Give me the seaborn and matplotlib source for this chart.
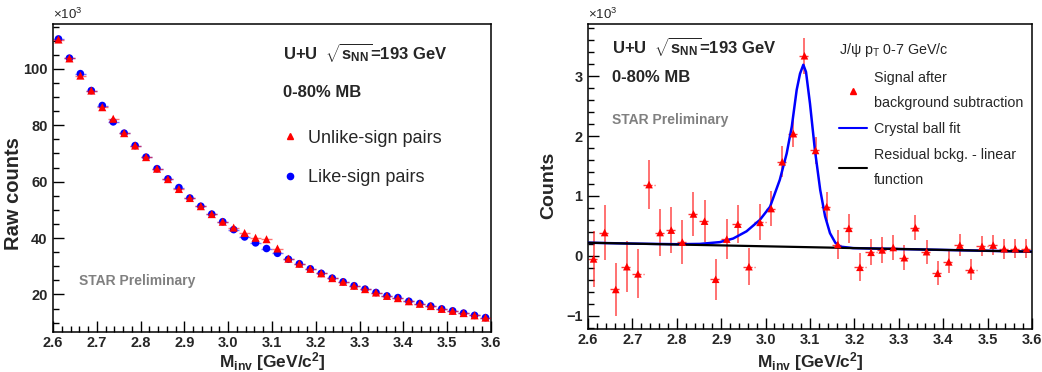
import numpy as np
import pandas as pd
import matplotlib
matplotlib.use("Agg")
import matplotlib.pyplot as plt
import seaborn as sns
from matplotlib.lines import Line2D
from matplotlib.ticker import MultipleLocator

# ---------------- data (values in units of 10^3) ----------------
mass = [2.6125, 2.6375, 2.6625, 2.6875, 2.7125, 2.7375, 2.7625, 2.7875, 2.8125, 2.8375,
        2.8625, 2.8875, 2.9125, 2.9375, 2.9625, 2.9875, 3.0125, 3.0375, 3.0625, 3.0875,
        3.1125, 3.1375, 3.1625, 3.1875, 3.2125, 3.2375, 3.2625, 3.2875, 3.3125, 3.3375,
        3.3625, 3.3875, 3.4125, 3.4375, 3.4625, 3.4875, 3.5125, 3.5375, 3.5625, 3.5875]
bin_half_width = 0.0125

unlike_sign = [110.4, 103.7, 97.6, 92.3, 86.4, 82.3, 77.2, 72.8, 68.7, 64.6,
               60.9, 57.4, 54.2, 51.3, 48.5, 45.8, 43.7, 41.8, 40.1, 39.6,
               36.3, 32.7, 30.9, 29.1, 27.5, 25.8, 24.5, 23.1, 21.9, 20.7,
               19.5, 18.7, 17.6, 16.7, 15.9, 14.9, 14.2, 13.4, 12.6, 11.8]
like_sign = [110.6, 103.8, 98.3, 92.3, 87.0, 81.2, 77.2, 72.8, 68.7, 64.6,
             61.0, 57.9, 54.2, 51.3, 48.5, 45.8, 43.0, 40.4, 38.3, 36.3,
             34.6, 32.5, 30.9, 29.1, 27.5, 25.8, 24.5, 23.1, 21.9, 20.7,
             19.5, 18.9, 17.6, 16.8, 15.9, 14.9, 14.2, 13.4, 12.6, 11.8]

signal = [-0.05, 0.39, -0.56, -0.18, -0.30, 1.19, 0.39, 0.43, 0.23, 0.70,
          0.58, -0.39, 0.28, 0.53, -0.18, 0.56, 0.79, 1.57, 2.04, 3.34,
          1.76, 0.82, 0.19, 0.46, -0.19, 0.06, 0.10, 0.14, -0.03, 0.47,
          0.07, -0.29, -0.10, 0.18, -0.23, 0.16, 0.18, 0.12, 0.12, 0.12]
signal_err = [0.47, 0.46, 0.44, 0.43, 0.41, 0.41, 0.39, 0.38, 0.37, 0.36,
              0.35, 0.34, 0.33, 0.32, 0.31, 0.30, 0.29, 0.26, 0.22, 0.30,
              0.22, 0.24, 0.24, 0.24, 0.23, 0.22, 0.22, 0.21, 0.21, 0.21,
              0.20, 0.20, 0.19, 0.19, 0.18, 0.17, 0.17, 0.17, 0.16, 0.16]

cb_mass = [2.60, 2.70, 2.80, 2.852, 2.897, 2.927, 2.957, 2.987, 3.010, 3.032,
           3.0475, 3.059, 3.070, 3.0775, 3.085, 3.091, 3.100, 3.111, 3.123, 3.134,
           3.145, 3.157, 3.168, 3.197, 3.30, 3.40, 3.50, 3.60]
cb_fit = [0.22, 0.205, 0.195, 0.20, 0.23, 0.29, 0.41, 0.60, 0.82, 1.27,
          1.71, 2.16, 2.77, 3.04, 3.19, 3.07, 2.54, 1.77, 1.10, 0.66,
          0.38, 0.22, 0.155, 0.13, 0.115, 0.10, 0.085, 0.07]
bg_mass = [2.60, 3.60]
bg_fit = [0.22, 0.07]

left_df = pd.DataFrame({"mass": mass, "unlike": unlike_sign, "like": like_sign})
right_df = pd.DataFrame({"mass": mass, "signal": signal, "err": signal_err})

# ---------------- style ----------------
sns.set_theme(style="ticks")
plt.rcParams["font.family"] = ["Liberation Sans", "DejaVu Sans"]
plt.rcParams["mathtext.fontset"] = "custom"
plt.rcParams["mathtext.rm"] = "Liberation Sans:bold"
plt.rcParams["mathtext.it"] = "Liberation Sans:bold"
plt.rcParams["mathtext.bf"] = "Liberation Sans:bold"
plt.rcParams["mathtext.sf"] = "Liberation Sans:bold"

W, H = 1042, 372
fig = plt.figure(figsize=(W / 100, H / 100), dpi=100)
axL = fig.add_axes([53 / W, (H - 332) / H, 438 / W, 308 / H])
axR = fig.add_axes([588 / W, (H - 329) / H, 444 / W, 305 / H])

RED = "#ff0000"
BLUE = "#0000ff"

def style_axes(ax, ymaj, ymin):
    ax.set_xlim(2.6, 3.6)
    ax.xaxis.set_major_locator(MultipleLocator(0.1))
    ax.xaxis.set_minor_locator(MultipleLocator(0.02))
    ax.yaxis.set_major_locator(MultipleLocator(ymaj))
    ax.yaxis.set_minor_locator(MultipleLocator(ymin))
    ax.tick_params(which="both", direction="in", top=False, right=False,
                   labelsize=10.5, width=1.0, color="black")
    ax.tick_params(which="major", length=8)
    ax.tick_params(which="minor", length=4)
    ax.tick_params(axis="x", which="major", pad=3)
    ax.tick_params(axis="y", which="major", pad=4)
    for lab in ax.get_xticklabels() + ax.get_yticklabels():
        lab.set_fontweight("bold")
    for sp in ax.spines.values():
        sp.set_color("black")
        sp.set_linewidth(1.1)
        sp.set_visible(True)
    ax.set_facecolor("white")
    ax.grid(False)

# ---------------- left panel ----------------
axL.errorbar(left_df["mass"], left_df["like"], xerr=bin_half_width, fmt="none",
             ecolor=BLUE, elinewidth=1.0, alpha=0.55, zorder=2)
sns.scatterplot(data=left_df, x="mass", y="like", ax=axL, color=BLUE, marker="o",
                s=30, edgecolor="none", zorder=3, legend=False)
axL.errorbar(left_df["mass"], left_df["unlike"], xerr=bin_half_width, fmt="none",
             ecolor=RED, elinewidth=1.0, alpha=0.55, linestyle="--", zorder=4)
sns.scatterplot(data=left_df, x="mass", y="unlike", ax=axL, color=RED, marker="^",
                s=34, edgecolor="none", zorder=5, legend=False)
axL.set_ylim(6.7, 115.9)
style_axes(axL, 20, 5)
axL.set_xlabel(r"M$_\mathregular{inv}$ [GeV/c$^\mathregular{2}$]", fontsize=12.5, fontweight="bold")
axL.set_ylabel("Raw counts", fontsize=14.5, fontweight="bold")
axL.xaxis.set_label_coords(0.5, -0.0585)
axL.yaxis.set_label_coords(-0.068, 0.45)
axL.text(0.0, 1.005, r"×10$^\mathregular{3}$", transform=axL.transAxes, fontsize=9.5,
         ha="left", va="bottom")
axL.text(0.525, 0.906, r"U+U  $\sqrt{\mathregular{s}_\mathregular{NN}}$=193 GeV",
         transform=axL.transAxes, fontsize=12, fontweight="bold", ha="left", va="center")
axL.text(0.525, 0.776, "0-80% MB", transform=axL.transAxes, fontsize=12,
         fontweight="bold", ha="left", va="center")
axL.text(0.059, 0.166, "STAR Preliminary", transform=axL.transAxes, fontsize=10,
         fontweight="bold", color="#808080", ha="left", va="center")
hL = [Line2D([], [], color=RED, marker="^", linestyle="none", markersize=4.5),
      Line2D([], [], color=BLUE, marker="o", linestyle="none", markersize=4.5)]
legL = axL.legend(hL, ["Unlike-sign pairs", "Like-sign pairs"], loc="upper left",
                  bbox_to_anchor=(0.52, 0.657), frameon=False, fontsize=13,
                  handlelength=1.0, handletextpad=0.5, labelspacing=1.23,
                  borderpad=0, borderaxespad=0)

# ---------------- right panel ----------------
axR.errorbar(right_df["mass"], right_df["signal"], yerr=right_df["err"], fmt="none",
             ecolor=RED, elinewidth=1.3, alpha=0.6, zorder=2)
ebx = axR.errorbar(right_df["mass"], right_df["signal"], xerr=bin_half_width, fmt="none",
                   ecolor=RED, elinewidth=1.0, alpha=0.8, zorder=2)
for lc in ebx.lines[2]:
    lc.set_linestyle((0, (2.5, 1.5)))
sns.lineplot(x=cb_mass, y=cb_fit, ax=axR, color=BLUE, linewidth=1.8, sort=False,
             zorder=3, legend=False)
sns.lineplot(x=bg_mass, y=bg_fit, ax=axR, color="black", linewidth=1.6, sort=False,
             zorder=4, legend=False)
sns.scatterplot(data=right_df, x="mass", y="signal", ax=axR, color=RED, marker="^",
                s=30, edgecolor="none", zorder=5, legend=False)
axR.set_ylim(-1.22, 3.87)
style_axes(axR, 1, 0.2)
axR.set_xlabel(r"M$_\mathregular{inv}$ [GeV/c$^\mathregular{2}$]", fontsize=12.5, fontweight="bold")
axR.set_ylabel("Counts", fontsize=14, fontweight="bold")
axR.xaxis.set_label_coords(0.5, -0.069)
axR.yaxis.set_label_coords(-0.07, 0.47)
axR.text(0.0, 1.005, r"×10$^\mathregular{3}$", transform=axR.transAxes, fontsize=9.5,
         ha="left", va="bottom")
axR.text(0.054, 0.925, r"U+U  $\sqrt{\mathregular{s}_\mathregular{NN}}$=193 GeV",
         transform=axR.transAxes, fontsize=12, fontweight="bold", ha="left", va="center")
axR.text(0.054, 0.823, "0-80% MB", transform=axR.transAxes, fontsize=12,
         fontweight="bold", ha="left", va="center")
axR.text(0.054, 0.684, "STAR Preliminary", transform=axR.transAxes, fontsize=10,
         fontweight="bold", color="#808080", ha="left", va="center")
hR = [Line2D([], [], color=RED, marker="^", linestyle="none", markersize=4.5),
      Line2D([], [], color=BLUE, linewidth=1.5),
      Line2D([], [], color="black", linewidth=1.5)]
legR = axR.legend(hR, ["Signal after\nbackground subtraction", "Crystal ball fit",
                       "Residual bckg. - linear\nfunction"],
                  title=r"J/ψ p$_\mathregular{T}$ 0-7 GeV/c", title_fontsize=10.3,
                  loc="upper left", bbox_to_anchor=(0.565, 0.945), frameon=False,
                  fontsize=10.3, handlelength=2.0, handletextpad=0.45,
                  labelspacing=0.85, borderpad=0, borderaxespad=0)
legR._legend_box.align = "left"
for t in legR.get_texts():
    t.set_linespacing(2.0)
legR.get_title().set_fontweight("normal")

fig.savefig("out.png", dpi=100, facecolor="white")
